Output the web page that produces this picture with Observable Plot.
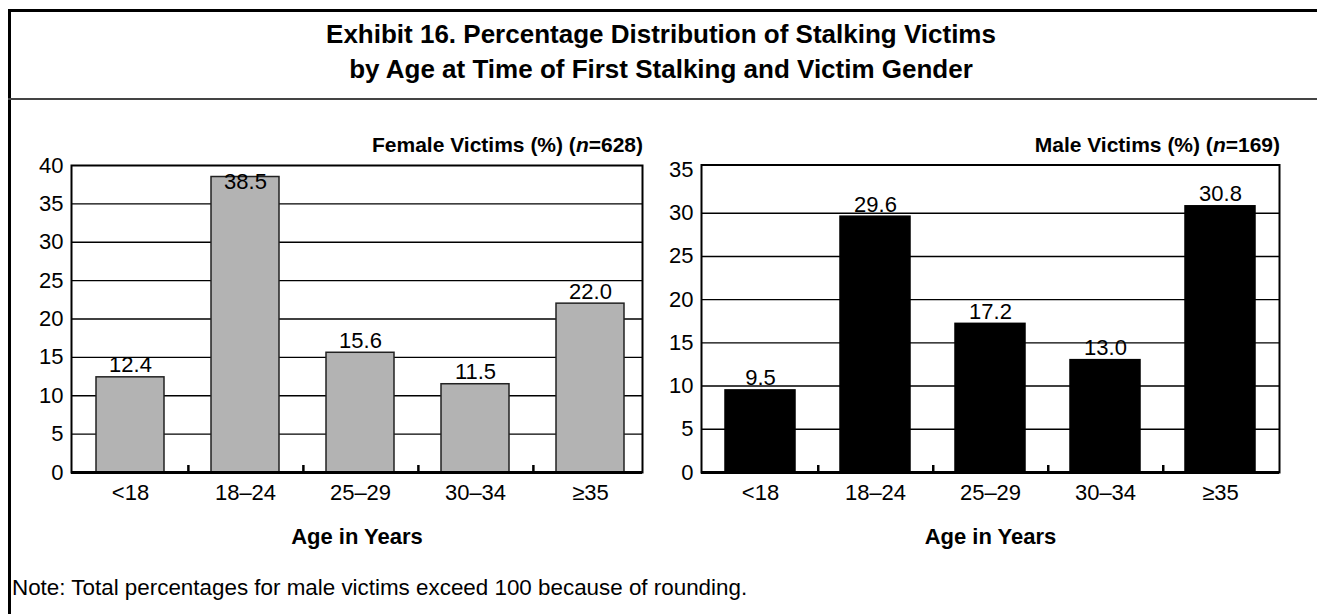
<!DOCTYPE html>
<html>
<head>
<meta charset="utf-8">
<script src="https://cdn.jsdelivr.net/npm/d3@7"></script>
<script src="https://cdn.jsdelivr.net/npm/@observablehq/plot@0.6"></script>
<style>
  html, body { margin: 0; padding: 0; background: #fff; overflow: hidden; }
  body { width: 1317px; height: 614px; position: relative;
         font-family: "Liberation Sans", Arial, Helvetica, sans-serif; color: #000; }
  #box { position: absolute; left: 8px; top: 9px; width: 1306px; height: 605px;
         border-left: 3px solid #000; border-top: 3px solid #000; }
  #sep { position: absolute; left: 8px; top: 98px; width: 1309px; height: 0; border-top: 2px solid #444; }
  #title { position: absolute; left: 11px; width: 1300px; top: 17px; text-align: center;
           font-weight: bold; font-size: 26px; line-height: 35px; }
  .sub { position: absolute; top: 132px; font-weight: bold; font-size: 21px; line-height: 26px;
         white-space: nowrap; text-align: right; }
  #note { position: absolute; left: 12px; top: 575px; font-size: 22.4px; line-height: 26px; white-space: nowrap; }
  .panel { position: absolute; top: 110px; }
  .panel svg { overflow: visible; }
</style>
</head>
<body>
<div id="box"></div>
<div id="sep"></div>
<div id="title"></div>
<div id="subF" class="sub"></div>
<div id="subM" class="sub"></div>
<div id="panelF" class="panel" style="left:0px"></div>
<div id="panelM" class="panel" style="left:660px"></div>
<div id="note"></div>
<script>
// ---- data ----
const titleLines = ["Exhibit 16. Percentage Distribution of Stalking Victims",
                    "by Age at Time of First Stalking and Victim Gender"];
const categories = ["<18", "18–24", "25–29", "30–34", "≥35"];
const femaleValues = [12.4, 38.5, 15.6, 11.5, 22.0];
const maleValues = [9.5, 29.6, 17.2, 13.0, 30.8];
const femaleTicks = [0, 5, 10, 15, 20, 25, 30, 35, 40];
const maleTicks = [0, 5, 10, 15, 20, 25, 30, 35];
const femaleSubtitle = ["Female Victims (%) (", "n", "=628)"];
const maleSubtitle = ["Male Victims (%) (", "n", "=169)"];
const xAxisTitle = "Age in Years";
const noteText = "Note: Total percentages for male victims exceed 100 because of rounding.";

const FONT = '"Liberation Sans", Arial, Helvetica, sans-serif';
const TXT = 22;

document.getElementById("title").innerHTML = titleLines.join("<br>");
document.getElementById("note").textContent = noteText;
function setSub(id, parts, right) {
  const el = document.getElementById(id);
  el.innerHTML = parts[0] + "<i>" + parts[1] + "</i>" + parts[2];
  el.style.right = (1317 - right) + "px";
}
setSub("subF", femaleSubtitle, 643);
setSub("subM", maleSubtitle, 1280);

function panel(container, values, ticks, cfg) {
  const data = categories.map((c, i) => ({category: c, value: values[i]}));
  const yMax = ticks[ticks.length - 1];
  const innerW = cfg.width - cfg.marginLeft - cfg.marginRight - cfg.insetLeft - cfg.insetRight;
  const step = innerW / (categories.length - cfg.paddingInner);
  const frameH = cfg.height - cfg.marginTop - cfg.marginBottom;
  const svg = Plot.plot({
    width: cfg.width,
    height: cfg.height,
    marginLeft: cfg.marginLeft,
    marginRight: cfg.marginRight,
    marginTop: cfg.marginTop,
    marginBottom: cfg.marginBottom,
    style: {fontFamily: FONT, fontSize: TXT + "px", color: "#000", background: "none", overflow: "visible"},
    x: {domain: categories, paddingInner: cfg.paddingInner, paddingOuter: 0,
        insetLeft: cfg.insetLeft, insetRight: cfg.insetRight},
    y: {domain: [0, yMax]},
    marks: [
      Plot.gridY(ticks.filter(t => t > 0 && t < yMax), {stroke: "#000", strokeOpacity: 1, strokeWidth: 1.4}),
      Plot.barY(data, {x: "category", y: "value", fill: cfg.fill, stroke: cfg.barStroke, strokeWidth: 1.5}),
      Plot.ruleX(categories.slice(0, -1), {x: d => d, dx: step / 2, stroke: "#000", strokeWidth: 2.5,
                                           insetTop: frameH - 7}),
      Plot.frame({stroke: "#000", strokeWidth: 2, insetTop: cfg.frameInsetTop}),
      Plot.ruleY([0], {stroke: "#000", strokeWidth: 3}),
      Plot.axisY({ticks, tickSize: 0, tickPadding: 8, fontSize: TXT, label: null}),
      Plot.axisX({tickSize: 0, tickPadding: 12, fontSize: TXT, label: null}),
      Plot.text([xAxisTitle], {frameAnchor: "bottom", dy: 64, fontWeight: "bold", fontSize: TXT, lineAnchor: "middle"}),
      Plot.text(data, {x: "category", y: d => Math.min(d.value, cfg.labelMax), text: d => d.value.toFixed(1),
                       lineAnchor: "bottom", dy: -5, fontSize: TXT, ariaLabel: "value labels"})
    ]
  });
  document.getElementById(container).appendChild(svg);
  // white knock-out boxes behind the value labels
  const g = svg.querySelector('g[aria-label="value labels"]');
  if (g) {
    g.querySelectorAll("text").forEach(t => {
      const b = t.getBBox();
      const r = document.createElementNS("http://www.w3.org/2000/svg", "rect");
      r.setAttribute("x", b.x - 3);
      r.setAttribute("y", b.y + 2);
      r.setAttribute("width", b.width + 6);
      r.setAttribute("height", b.height - 4);
      r.setAttribute("fill", "#fff");
      const tr = t.getAttribute("transform");
      if (tr) r.setAttribute("transform", tr);
      t.parentNode.insertBefore(r, t);
    });
  }
}

panel("panelF", femaleValues, femaleTicks, {
  width: 660, height: 450, marginLeft: 71, marginRight: 18, marginTop: 55, marginBottom: 88,
  insetLeft: 23, insetRight: 16, paddingInner: 0.405, fill: "#b3b3b3", barStroke: "#222",
  frameInsetTop: 0, labelMax: 36.3
});
panel("panelM", maleValues, maleTicks, {
  width: 657, height: 450, marginLeft: 41, marginRight: 38, marginTop: 59.5, marginBottom: 88,
  insetLeft: 23, insetRight: 23, paddingInner: 0.394, fill: "#000", barStroke: "#000",
  frameInsetTop: -5, labelMax: 40
});
</script>
</body>
</html>
